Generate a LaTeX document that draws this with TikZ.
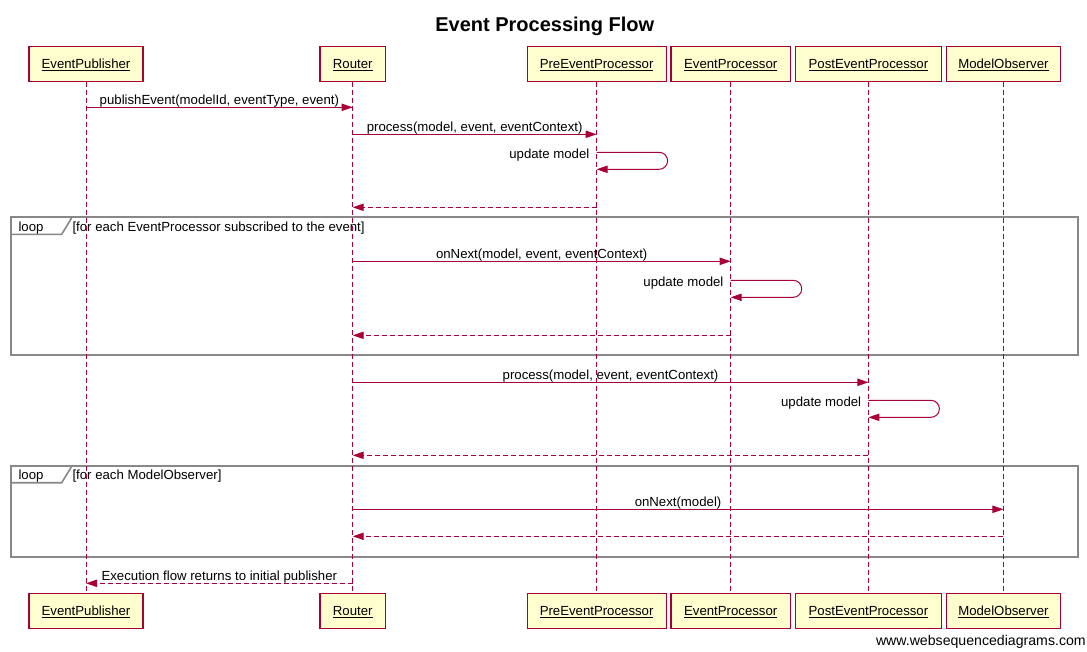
\documentclass[tikz,border=0pt]{standalone}
\usepackage{fontspec}
\setmainfont{Liberation Sans}
\usetikzlibrary{arrows.meta}
\definecolor{crim}{HTML}{A80036}
\definecolor{boxfill}{HTML}{FEFECE}
\definecolor{framegray}{HTML}{888888}
\begin{document}
\begin{tikzpicture}[x=0.75pt,y=-0.75pt,
  every node/.style={font=\fontsize{9.9}{12}\selectfont},
  part/.style={draw=crim, fill=boxfill, line width=0.9pt, minimum height=26.5pt, inner sep=0pt, text height=7pt, text depth=0pt},
  life/.style={crim, line width=0.75pt, dash pattern=on 3.75pt off 2.25pt},
  msg/.style={crim, line width=0.75pt, -{Triangle[length=8.25pt,width=5.5pt]}},
  ret/.style={msg, dash pattern=on 3.75pt off 2.25pt},
  lbl/.style={anchor=base, inner sep=0pt, yshift=2.2pt, text=black},
  selflbl/.style={anchor=base east, inner sep=0pt, text=black},
  frm/.style={draw=framegray, line width=1.5pt},
  frmtxt/.style={anchor=base west, inner sep=0pt, text=black}
]
\useasboundingbox (0,0) rectangle (1087,651);

% title
\node[anchor=base, inner sep=0pt, font=\fontsize{15}{18}\selectfont\bfseries] (title) at (544.8,31) {Event Processing Flow};

% loop frames
\draw[frm] (11,217) rectangle (1077.7,355);
\draw[draw=framegray, line width=1.2pt] (11,234.3) -- (61.7,234.3) -- (71,219) -- (71,217);
\node[frmtxt] (loop1) at (18.3,231.3) {loop};
\node[frmtxt] (cond1) at (72.3,231.3) {[for each EventProcessor subscribed to the event]};

\draw[frm] (11,465.7) rectangle (1077.7,556.7);
\draw[draw=framegray, line width=1.2pt] (11,482.7) -- (61.7,482.7) -- (71,467.5) -- (71,465.7);
\node[frmtxt] (loop2) at (18.3,479.6) {loop};
\node[frmtxt] (cond2) at (72.3,479.6) {[for each ModelObserver]};

% participants (top)
\node[part, minimum width=85.5pt]  (ep)   at (86,64)    {\underline{EventPublisher}};
\node[part, minimum width=49.1pt]  (rt)   at (352.7,64) {\underline{Router}};
\node[part, minimum width=104.25pt](pre)  at (596.6,64) {\underline{PreEventProcessor}};
\node[part, minimum width=89.55pt] (evp)  at (730.7,64) {\underline{EventProcessor}};
\node[part, minimum width=109.8pt] (post) at (868.4,64) {\underline{PostEventProcessor}};
\node[part, minimum width=85.8pt]  (mo)   at (1003.4,64){\underline{ModelObserver}};
% participants (bottom)
\node[part, minimum width=85.5pt]  (ep2)   at (86,611)    {\underline{EventPublisher}};
\node[part, minimum width=49.1pt]  (rt2)   at (352.7,611) {\underline{Router}};
\node[part, minimum width=104.25pt](pre2)  at (596.6,611) {\underline{PreEventProcessor}};
\node[part, minimum width=89.55pt] (evp2)  at (730.7,611) {\underline{EventProcessor}};
\node[part, minimum width=109.8pt] (post2) at (868.4,611) {\underline{PostEventProcessor}};
\node[part, minimum width=85.8pt]  (mo2)   at (1003.4,611){\underline{ModelObserver}};

% lifelines
\draw[life] (ep) -- (ep2);
\draw[life] (rt) -- (rt2);
\draw[life] (pre) -- (pre2);
\draw[life] (evp) -- (evp2);
\draw[life] (post) -- (post2);
\draw[life] (mo) -- (mo2);

% rows
\coordinate (r1) at (0,107.3);
\coordinate (r2) at (0,134.3);
\coordinate (s1a) at (0,152.3);
\coordinate (s1b) at (0,169.3);
\coordinate (r3) at (0,207.3);
\coordinate (r4) at (0,261.3);
\coordinate (s2a) at (0,280.3);
\coordinate (s2b) at (0,297.3);
\coordinate (r5) at (0,335.3);
\coordinate (r6) at (0,382.3);
\coordinate (s3a) at (0,400.3);
\coordinate (s3b) at (0,417.3);
\coordinate (r7) at (0,455.3);
\coordinate (r8) at (0,509.3);
\coordinate (r9) at (0,536.3);
\coordinate (r10) at (0,583.3);

% messages
\draw[msg] (ep |- r1) -- node[lbl] {publishEvent(modelId, eventType, event)} (rt |- r1);
\draw[msg] (rt |- r2) -- node[lbl] {process(model, event, eventContext)} (pre |- r2);
\draw[msg] (pre |- s1a) -- ++(62.5,0) arc[start angle=90, end angle=-90, radius=6.375pt] -- (pre |- s1b);
\node[selflbl] (u1) at ([xshift=-5.25pt, yshift=-4.5pt]pre |- s1a) {update model};
\draw[ret] (pre |- r3) -- (rt |- r3);

\draw[msg] (rt |- r4) -- node[lbl] {onNext(model, event, eventContext)} (evp |- r4);
\draw[msg] (evp |- s2a) -- ++(62.5,0) arc[start angle=90, end angle=-90, radius=6.375pt] -- (evp |- s2b);
\node[selflbl] (u2) at ([xshift=-5.25pt, yshift=-4.5pt]evp |- s2a) {update model};
\draw[ret] (evp |- r5) -- (rt |- r5);

\draw[msg] (rt |- r6) -- node[lbl] {process(model, event, eventContext)} (post |- r6);
\draw[msg] (post |- s3a) -- ++(62.5,0) arc[start angle=90, end angle=-90, radius=6.375pt] -- (post |- s3b);
\node[selflbl] (u3) at ([xshift=-5.25pt, yshift=-4.5pt]post |- s3a) {update model};
\draw[ret] (post |- r7) -- (rt |- r7);

\draw[msg] (rt |- r8) -- node[lbl] {onNext(model)} (mo |- r8);
\draw[ret] (mo |- r9) -- (rt |- r9);

\draw[ret] (rt |- r10) -- node[lbl] {Execution flow returns to initial publisher} (ep |- r10);

% watermark
\node[anchor=base east, inner sep=0pt, font=\fontsize{10.6}{12}\selectfont] (wm) at (1086,645.7) {www.websequencediagrams.com};
\end{tikzpicture}
\end{document}
